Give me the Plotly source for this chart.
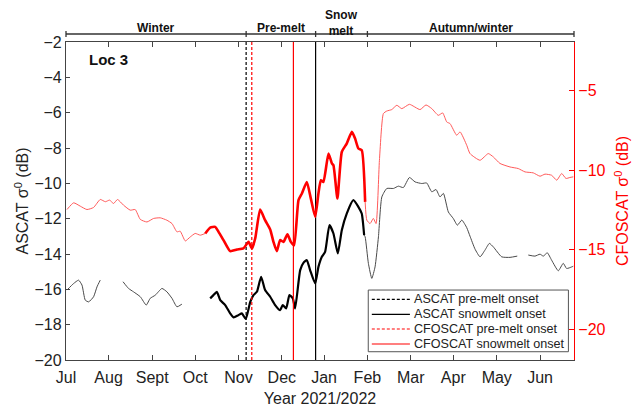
import plotly.graph_objects as go

# x values are days since 2021-07-01
month_labels = ["Jul", "Aug", "Sept", "Oct", "Nov", "Dec", "Jan", "Feb", "Mar", "Apr", "May", "Jun"]
month_tick_days = [0, 30.1, 60.9, 91.3, 121.9, 152.5, 182.4, 213.0, 243.6, 273.7, 304.4, 335.0]

# CFOSCAT sigma0 (dB), right axis
cfo_thin1_days = [0.7, 5.4, 10.1, 14.8, 19.5, 24.2, 27.8, 30.8, 33.6, 36.4, 40.7, 45.4, 48.9, 52.5, 57.2,
                  61.9, 66.6, 71.3, 74.9, 78.4, 80.7, 84.3, 87.8, 91.3, 94.9, 98.4]
cfo_thin1_vals = [-12.48, -12.06, -12.27, -12.48, -12.35, -11.85, -11.99, -11.89, -12.10, -11.85, -12.21,
                  -12.52, -12.48, -13.10, -13.26, -13.04, -13.00, -13.15, -13.36, -13.88, -13.84, -14.45,
                  -14.20, -13.98, -14.09, -13.98]
cfo_thick_days = [98.4, 101.9, 105.4, 107.8, 111.3, 116.0, 120.8, 125.4, 129.0, 131.4, 133.7, 137.2, 140.7,
                  144.3, 146.6, 149.0, 151.3, 153.7, 156.5, 158.9, 161.2, 164.3, 166.7, 170.2, 173.0, 176.1,
                  178.4, 180.1, 181.9, 185.5, 187.9, 189.0, 191.8, 194.9, 198.4, 202.0, 204.3, 206.6, 209.0,
                  211.4]
cfo_thick_vals = [-13.98, -13.61, -13.57, -13.88, -14.40, -15.09, -14.99, -14.92, -14.51, -14.92, -14.30,
                  -12.48, -13.15, -13.73, -14.51, -15.09, -14.40, -14.51, -14.03, -14.51, -14.72, -11.89,
                  -11.47, -10.75, -11.78, -12.94, -11.47, -10.64, -10.75, -8.97, -9.59, -9.70, -11.79,
                  -8.87, -8.34, -7.61, -8.03, -8.65, -8.76, -12.00]
cfo_thin2_days = [211.4, 212.6, 214.9, 217.2, 219.1, 221.5, 224.3, 226.7, 230.2, 233.8, 237.3, 242.7, 250.2,
                  254.4, 258.5, 263.1, 266.2, 269.1, 271.4, 276.1, 278.5, 283.2, 285.5, 292.6, 298.4, 302.0,
                  306.7, 313.8, 319.6, 324.4, 330.2, 335.0, 338.5, 343.2, 346.8, 350.3, 353.3, 356.1, 358.5]
cfo_thin2_vals = [-12.00, -13.15, -13.36, -13.04, -13.36, -9.39, -6.46, -6.30, -6.21, -5.94, -6.15, -5.88,
                  -6.21, -5.92, -6.15, -6.57, -6.42, -6.99, -7.09, -7.82, -7.61, -8.45, -8.97, -9.39, -8.97,
                  -9.18, -9.59, -9.81, -9.91, -10.12, -10.18, -10.39, -10.26, -10.33, -10.64, -10.22, -10.53,
                  -10.47, -10.43]

# ASCAT sigma0 (dB), left axis (None = data gap)
asc_thin1_days = [0.7, 5.4, 8.9, 11.3, 13.6, 16.0, 19.5, 21.9, 24.2, None,
                  40.3, 44.2, 47.7, 52.5, 56.7, 59.5, 63.1, 67.8, 71.3, 74.9, 78.4, 81.9]
asc_thin1_vals = [-16.04, -15.67, -15.48, -15.76, -16.61, -16.71, -16.42, -15.86, -15.48, None,
                  -15.57, -15.95, -16.14, -16.42, -16.89, -16.51, -16.33, -15.95, -16.14, -16.51, -16.99, -16.84]
asc_thick_days = [101.9, 104.2, 106.6, 109.0, 112.5, 116.0, 118.4, 121.9, 124.3, 127.0, 130.2, 132.5, 134.9,
                  137.9, 140.7, 144.3, 147.8, 151.3, 153.2, 155.6, 157.9, 160.3, 161.9, 165.5, 167.8, 170.2,
                  172.5, 176.1, 178.4, 180.8, 183.1, 186.2, 189.0, 192.1, 194.9, 198.4, 203.1, 206.6, 209.0,
                  210.7]
asc_thick_vals = [-16.51, -16.33, -16.14, -16.61, -16.89, -17.36, -17.59, -17.46, -17.36, -17.68, -16.71,
                  -16.33, -16.14, -15.29, -16.04, -16.42, -16.89, -17.18, -16.89, -17.08, -16.33, -16.51,
                  -17.08, -14.91, -14.50, -14.35, -14.91, -15.67, -14.73, -14.16, -13.88, -12.37, -12.84,
                  -13.97, -12.65, -11.71, -10.95, -11.33, -11.71, -12.93]
asc_thin2_days = [210.7, 211.4, 213.7, 216.1, 218.4, 220.8, 223.2, 226.7, 231.4, 234.9, 238.4, 242.7, 246.7,
                  251.4, 254.9, 258.5, 261.5, 264.3, 266.7, 270.2, 273.7, 276.6, 279.7, 283.2, 285.5, 289.1,
                  292.6, 296.1, 299.2, 302.0, 307.9, 313.8, 318.9, None,
                  326.7, 331.4, 335.0, 337.3, 340.1, 343.2, 347.9, 351.4, 353.8, 357.4, 358.5]
asc_thin2_vals = [-12.93, -13.03, -14.53, -15.38, -14.73, -13.03, -10.77, -10.29, -10.29, -10.16, -10.24,
                  -9.67, -9.92, -10.01, -9.98, -10.48, -10.35, -10.77, -10.57, -11.62, -11.99, -12.37, -12.08,
                  -12.51, -12.99, -13.73, -14.16, -13.78, -13.40, -13.60, -14.16, -14.19, -14.12, None,
                  -14.06, -14.12, -14.01, -14.12, -13.93, -14.35, -14.95, -14.53, -14.82, -14.73, -14.69]

# Onset dates (days since 2021-07-01)
onset_names = ["ASCAT pre-melt onset", "ASCAT snowmelt onset", "CFOSCAT pre-melt onset", "CFOSCAT snowmelt onset"]
onset_days = [127.3, 176.4, 131.3, 160.7]
onset_colors = ["black", "black", "red", "red"]
onset_dash = ["3px,2px", "solid", "3px,2px", "solid"]

# Season periods
season_names = ["Winter", "Pre-melt", "Snow<br>melt", "Autumn/winter"]
season_bounds = [0, 127.3, 176.4, 213.0, 359.0]

X_MAX = 359.0
LEFT_RANGE = [-20, -2]
RIGHT_RANGE = [-21.92, -1.97]
SMOOTH = 0.5

fig = go.Figure()

fig.add_trace(go.Scatter(x=cfo_thin1_days, y=cfo_thin1_vals, yaxis="y2", mode="lines",
                         line=dict(color="#ff5a5a", width=1, shape="spline", smoothing=SMOOTH), showlegend=False))
fig.add_trace(go.Scatter(x=cfo_thin2_days, y=cfo_thin2_vals, yaxis="y2", mode="lines",
                         line=dict(color="#ff5a5a", width=1, shape="spline", smoothing=SMOOTH), showlegend=False))
fig.add_trace(go.Scatter(x=cfo_thick_days, y=cfo_thick_vals, yaxis="y2", mode="lines",
                         line=dict(color="#ff0000", width=2.6, shape="spline", smoothing=SMOOTH), showlegend=False))
fig.add_trace(go.Scatter(x=asc_thin1_days, y=asc_thin1_vals, mode="lines", connectgaps=False,
                         line=dict(color="#4a4a4a", width=1, shape="spline", smoothing=SMOOTH), showlegend=False))
fig.add_trace(go.Scatter(x=asc_thin2_days, y=asc_thin2_vals, mode="lines", connectgaps=False,
                         line=dict(color="#4a4a4a", width=1, shape="spline", smoothing=SMOOTH), showlegend=False))
fig.add_trace(go.Scatter(x=asc_thick_days, y=asc_thick_vals, mode="lines",
                         line=dict(color="#000000", width=2.2, shape="spline", smoothing=SMOOTH), showlegend=False))

for name, d, c, ds in zip(onset_names, onset_days, onset_colors, onset_dash):
    fig.add_trace(go.Scatter(x=[d, d], y=LEFT_RANGE, mode="lines", name=name, showlegend=False,
                             line=dict(color=c, width=1.2, dash=ds)))

shapes = []
annotations = []

# season bar above plot
bar_y = 1.0251
tick_lo, tick_hi = 1.0157, 1.0346
shapes.append(dict(type="line", xref="paper", yref="paper", x0=0, x1=1, y0=bar_y, y1=bar_y,
                   line=dict(color="#333333", width=1.3)))
for b in season_bounds:
    shapes.append(dict(type="line", xref="paper", yref="paper", x0=b / X_MAX, x1=b / X_MAX,
                       y0=tick_lo, y1=tick_hi, line=dict(color="#333333", width=1.3)))
for i, nm in enumerate(season_names):
    mid = (season_bounds[i] + season_bounds[i + 1]) / 2 / X_MAX
    yy = 1.060 if "<br>" in nm else 1.045
    annotations.append(dict(text="<b>%s</b>" % nm, x=mid, y=yy, xref="paper", yref="paper",
                            showarrow=False, xanchor="center", yanchor="middle",
                            font=dict(size=12, color="#111111"), align="center"))
annotations.append(dict(text="<b>Loc 3</b>", x=0.042, y=0.945, xref="paper", yref="paper",
                        showarrow=False, xanchor="left", yanchor="middle",
                        font=dict(size=15, color="#111111")))

# legend box (drawn manually for compact MATLAB-like spacing)
leg_x0, leg_x1, leg_y0, leg_y1 = 0.595, 0.989, 0.026, 0.220
row_y = [0.1909, 0.1437, 0.0975, 0.0503]
shapes.append(dict(type="rect", xref="paper", yref="paper", x0=leg_x0, x1=leg_x1, y0=leg_y0, y1=leg_y1,
                   fillcolor="white", line=dict(color="#555555", width=1), layer="above"))
for name, c, ds, ry in zip(onset_names, onset_colors, onset_dash, row_y):
    shapes.append(dict(type="line", xref="paper", yref="paper", x0=0.602, x1=0.677, y0=ry, y1=ry,
                       line=dict(color=c, width=1.2, dash=ds), layer="above"))
    annotations.append(dict(text=name, x=0.681, y=ry, xref="paper", yref="paper", showarrow=False,
                            xanchor="left", yanchor="middle", font=dict(size=12.6, color="#222222")))

fig.update_layout(
    width=633, height=407,
    margin=dict(l=66, r=59, t=42, b=47),
    paper_bgcolor="white", plot_bgcolor="white",
    font=dict(family="Liberation Sans, Arial, sans-serif", size=14, color="#222222"),
    shapes=shapes, annotations=annotations, showlegend=False,
    xaxis=dict(range=[0, X_MAX], tickvals=month_tick_days, ticktext=month_labels, automargin=False,
               showline=True, linecolor="#444444", linewidth=1.3, mirror="ticks",
               ticks="inside", ticklen=5, tickcolor="#444444", showgrid=False, zeroline=False,
               tickfont=dict(size=16), ticklabelstandoff=3,
               title=dict(text="Year 2021/2022", font=dict(size=16), standoff=9)),
    yaxis=dict(range=LEFT_RANGE, dtick=2, showline=True, linecolor="#444444", linewidth=1.3,
               ticks="inside", ticklen=4, tickcolor="#444444", showgrid=False, zeroline=False,
               tickfont=dict(size=16), automargin=False,
               title=dict(text="ASCAT σ<sup>0</sup> (dB)", font=dict(size=16), standoff=1)),
    yaxis2=dict(range=RIGHT_RANGE, overlaying="y", side="right", tickvals=[-20, -15, -10, -5],
                showline=True, linecolor="red", linewidth=1.3, ticks="inside", ticklen=5, automargin=False,
                tickcolor="red", showgrid=False, zeroline=False, tickfont=dict(size=16, color="red"),
                title=dict(text="CFOSCAT σ<sup>0</sup> (dB)", font=dict(size=16, color="red"), standoff=12)),
)

fig.write_html("out.html")
